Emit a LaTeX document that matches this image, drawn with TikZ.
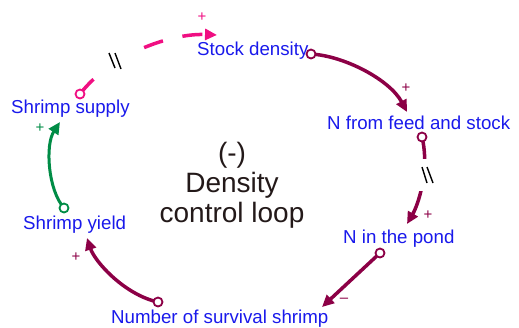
\documentclass[tikz,border=0pt]{standalone}
\usepackage{fontspec}
\setmainfont{Liberation Sans}
\usetikzlibrary{arrows.meta,calc}
\definecolor{lblblue}{RGB}{25,25,235}
\definecolor{pinkc}{RGB}{240,15,130}
\definecolor{maroonc}{RGB}{140,0,70}
\definecolor{greenc}{RGB}{0,140,70}
\definecolor{loopc}{RGB}{35,25,25}
\tikzset{
  lbl/.style={text=lblblue, inner sep=0pt, anchor=base west, font=\fontsize{18.7}{22}\selectfont},
  sgn/.style={inner sep=0pt, font=\fontsize{15}{18}\selectfont},
  link/.style={line width=3.5pt, -{Triangle[length=12pt,width=11pt]}},
  tail/.style={circle, draw, fill=white, line width=1.8pt, minimum size=9pt, inner sep=0pt},
  delaybox/.style={fill=white, inner sep=0pt, minimum width=16pt, minimum height=32pt},
  delayline/.style={black, line width=1.4pt},
}
\begin{document}
\begin{tikzpicture}[x=1pt,y=-1pt]
\useasboundingbox (0,0) rectangle (519,327);
% labels
\node[lbl] (stock) at (197,55) {Stock density};
\node[lbl] (nfeed) at (327,129) {N from feed and stock};
\node[lbl] (npond) at (343,243) {N in the pond};
\node[lbl] (nsurv) at (111,323) {Number of survival shrimp};
\node[lbl] (syield) at (23,229) {Shrimp yield};
\node[lbl] (ssupply) at (11,113) {Shrimp supply};
\node[text=loopc, align=center, inner sep=0pt, font=\fontsize{28}{30}\selectfont] (loop) at (232,185) {(-)\\Density\\control loop};
% connector end points
\coordinate (t1) at (80,94);   \coordinate (h1) at (217,35);
\coordinate (t2) at (311,54);  \coordinate (h2) at (407,112);
\coordinate (t3) at (422,137); \coordinate (h3) at (407,224);
\coordinate (t4) at (380,253); \coordinate (h4) at (322,307);
\coordinate (t5) at (158,302); \coordinate (h5) at (87,238);
\coordinate (t6) at (64,208);  \coordinate (h6) at (60,122);
% connectors
\draw[link, pinkc, dash pattern=on 20pt off 20pt] (t1) .. controls (110,55) and (170,33) .. (h1);
\draw[link, maroonc] (t2) .. controls (345,56) and (390,80) .. (h2);
\draw[link, maroonc] (t3) .. controls (430,170) and (418,205) .. (h3);
\draw[link, maroonc] (t4) -- (h4);
\draw[link, maroonc] (t5) .. controls (125,295) and (95,262) .. (h5);
\draw[link, greenc, line width=3pt] (t6) .. controls (48,190) and (45,145) .. (h6);
% delay marks
\node[delaybox, minimum width=21pt] (d1) at (118.5,60) {};
\draw[delayline] (109,53) -- (115,68);
\draw[delayline] (115,53) -- (121,69);
\node[delaybox] (d2) at (427,175) {};
\draw[delayline] ($(d2.center)+(-5,-8)$) -- ($(d2.center)+(0,8)$);
\draw[delayline] ($(d2.center)+(0,-8)$) -- ($(d2.center)+(6,8)$);
% tails
\node[tail, draw=pinkc] (c1) at (t1) {};
\node[tail, draw=maroonc] (c2) at (t2) {};
\node[tail, draw=maroonc] (c3) at (t3) {};
\node[tail, draw=maroonc] (c4) at (t4) {};
\node[tail, draw=maroonc] (c5) at (t5) {};
\node[tail, draw=greenc] (c6) at (t6) {};
% polarity signs
\node[sgn, text=pinkc] (p1) at (202,17) {+};
\node[sgn, text=maroonc] (p2) at (406,88) {+};
\node[sgn, text=maroonc] (p3) at (428,215) {+};
\node[sgn, text=maroonc] (p4) at (344,300) {\textendash};
\node[sgn, text=maroonc] (p5) at (76,257) {+};
\node[sgn, text=greenc] (p6) at (40,128) {+};
\end{tikzpicture}
\end{document}
